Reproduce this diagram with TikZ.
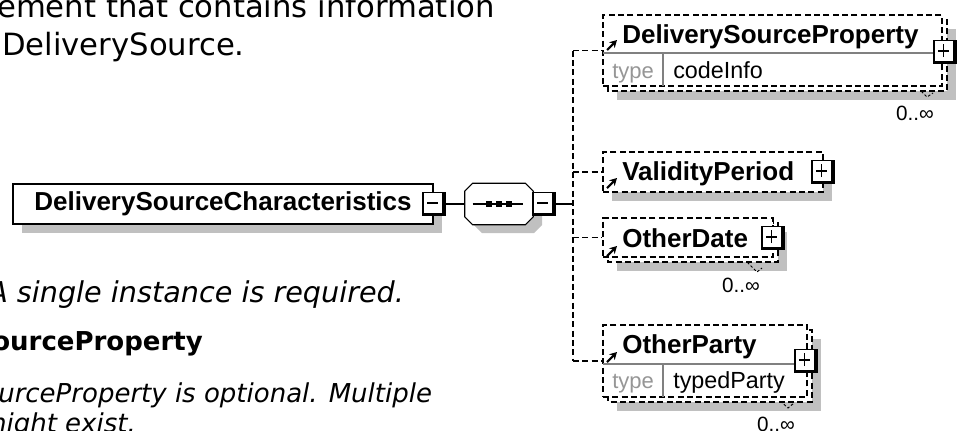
\documentclass[tikz,border=0pt]{standalone}
\usepackage{fontspec}
\newfontfamily\docfont{DejaVu Sans}
\newfontfamily\xsdfont{Liberation Sans}
\usetikzlibrary{arrows.meta}

\definecolor{shadowgray}{RGB}{192,192,192}
\definecolor{typegray}{RGB}{150,150,150}
\definecolor{sepgray}{RGB}{128,128,128}

\newcommand{\boxedge}{\draw[line width=4.5pt] (path picture bounding box.north east) -- (path picture bounding box.south east) -- (path picture bounding box.south west);}

\tikzset{
  doctext/.style={inner sep=0pt, anchor=base west, font=\docfont\fontsize{23}{27}\selectfont},
  notetext/.style={inner sep=0pt, font=\docfont\itshape\fontsize{21.5}{25}\selectfont},
  headtext/.style={inner sep=0pt, font=\docfont\bfseries\fontsize{19.5}{23}\selectfont},
  paratext/.style={inner sep=0pt, anchor=base west, font=\docfont\itshape\fontsize{19.5}{23}\selectfont},
  reqbox/.style={draw, line width=1pt, fill=white, inner sep=0pt},
  optbox/.style={reqbox, dash pattern=on 4.5pt off 2.5pt},
  optline/.style={line width=1pt, dash pattern=on 4.5pt off 2.5pt},
  elemtitle/.style={inner sep=0pt, anchor=base west, font=\xsdfont\bfseries\fontsize{19.5}{22}\selectfont},
  typelbl/.style={inner sep=0pt, anchor=base west, text=typegray, font=\xsdfont\fontsize{16.5}{19}\selectfont},
  typeval/.style={inner sep=0pt, anchor=base west, font=\xsdfont\fontsize{17.5}{20}\selectfont},
  occ/.style={inner sep=0pt, font=\xsdfont\fontsize{15.5}{18}\selectfont},
  pmbox/.style={draw, line width=0.8pt, fill=white, minimum width=16.5pt, minimum height=17.5pt, inner sep=0pt},
  minusbox/.style={pmbox, path picture={\boxedge
      \draw[line width=0.9pt] ([xshift=3pt,yshift=0.8pt]path picture bounding box.west) -- ([xshift=-5pt,yshift=0.8pt]path picture bounding box.east);}},
  plusbox/.style={pmbox, path picture={\boxedge
      \draw[line width=0.9pt] ([xshift=3pt,yshift=0.8pt]path picture bounding box.west) -- ([xshift=-5pt,yshift=0.8pt]path picture bounding box.east);
      \draw[line width=0.9pt] ([xshift=-1pt,yshift=5pt]path picture bounding box.south) -- ([xshift=-1pt,yshift=-3pt]path picture bounding box.north);}},
  seqbox/.style={inner sep=0pt, minimum width=51pt, minimum height=30.75pt},
  refarrow/.style={line width=1.6pt, -{Stealth[length=5.5pt,width=6pt]}},
  occtick/.style={line width=0.7pt, dash pattern=on 2pt off 1.5pt}
}

\begin{document}
\begin{tikzpicture}[x=0.75pt, y=-0.75pt]
\useasboundingbox (0,0) rectangle (960,430);

% documentation text, cut at the left
\node[doctext] (intro1) at (-3,17) {ement that contains information};
\node[doctext] (intro2) at (2,55) {DeliverySource.};
\node[notetext, anchor=base west] (occnote) at (-12,302) {A single instance is required.};
\node[headtext, anchor=base east] (prophead) at (203,350) {ourceProperty};
\node[paratext] (propnote1) at (-2,402) {urceProperty is optional. Multiple};
\node[paratext] (propnote2) at (-19,432) {might exist.};

% shadows
\fill[shadowgray] (22,193) rectangle (442,233);
\fill[shadowgray] (482,192) -- (534,192) -- (542,200) -- (542,225) -- (534,233) -- (482,233) -- (474,225) -- (474,200) -- cycle;
\fill[shadowgray] (617,29) rectangle (956,100);
\fill[shadowgray] (612,161) rectangle (832,201);
\fill[shadowgray] (617,232) rectangle (787,271);
\fill[shadowgray] (617,339) rectangle (821,411);

% occurrence ticks
\draw[occtick] (918,88) -- (927,97) -- (933,93);
\draw[occtick] (744,259) -- (757,272) -- (762,268);
\draw[occtick] (777,398) -- (788,408) -- (794,403);

% back boxes for repeating elements
\draw[optline, fill=white] (608,20) rectangle (947,91);
\draw[optline, fill=white] (608,223) rectangle (778,262);
\draw[optline, fill=white] (608,330) rectangle (812,402);

% parent element and sequence
\node[reqbox, minimum width=315pt, minimum height=30pt, font=\xsdfont\bfseries\fontsize{19.5}{22}\selectfont] (dsc) at (223,204) {DeliverySourceCharacteristics};
\node[minusbox] (dscminus) at (434,204) {};
\node[seqbox] (seq) at (499,204) {};
\draw[line width=0.8pt, fill=white] ([xshift=6pt]seq.north west) -- ([xshift=-6pt]seq.north east)
  -- ([yshift=-6pt]seq.north east) -- ([yshift=6pt]seq.south east) -- ([xshift=-6pt]seq.south east)
  -- ([xshift=6pt]seq.south west) -- ([yshift=6pt]seq.south west) -- ([yshift=-6pt]seq.north west) -- cycle;
\node[minusbox] (seqminus) at (544,204) {};
\coordinate (bus) at (573,204);
\draw[line width=0.8pt] ([xshift=6pt]seq.west) -- ([xshift=-7.5pt]seq.east);
\foreach \dx in {-7.5,0,7.5}
  \fill ([xshift=\dx pt]seq.center) +(-2.25pt,-2.25pt) rectangle +(2.25pt,2.25pt);

% child elements
\node[optbox, minimum width=254.25pt, minimum height=53.25pt] (dsp) at (772.5,50.5) {};
\node[elemtitle] (dsptitle) at (622,43) {DeliverySourceProperty};
\draw[sepgray, line width=0.8pt] (603,53) -- (942,53);
\draw[sepgray, line width=0.8pt] (663,53) -- (663,86);
\node[typelbl] (dsptype) at (612,78) {type};
\node[typeval] (dspval) at (673,78) {codeInfo};
\node[plusbox] (dspplus) at (945,52) {};
\node[occ] (dspocc) at (915,113) {0..∞};

\node[optbox, minimum width=165pt, minimum height=30pt] (vp) at (713,172) {};
\node[elemtitle] (vptitle) at (622,180) {ValidityPeriod};
\node[plusbox] (vpplus) at (823,172) {};

\node[optbox, minimum width=127.5pt, minimum height=29.25pt] (od) at (688,237.5) {};
\node[elemtitle] (odtitle) at (622,247) {OtherDate};
\node[plusbox] (odplus) at (773,238) {};
\node[occ] (odocc) at (741,285) {0..∞};

\node[optbox, minimum width=153pt, minimum height=54pt] (op) at (705,361) {};
\node[elemtitle] (optitle) at (622,353) {OtherParty};
\draw[sepgray, line width=0.8pt] (603,364) -- (807,364);
\draw[sepgray, line width=0.8pt] (663,364) -- (663,397);
\node[typelbl] (optype) at (612,388) {type};
\node[typeval] (opval) at (673,388) {typedParty};
\node[plusbox] (opplus) at (806,361) {};
\node[occ] (opocc) at (776,424) {0..∞};

% connectors
\draw[line width=0.8pt] (dscminus.east) -- (seq.west);
\draw[line width=0.8pt] (seqminus.east) -- (bus);
\draw[optline] (bus |- dsp.west) -- (bus |- op.west);
\foreach \n in {dsp,vp,od,op}
  \draw[optline] (bus |- \n.west) -- (\n.west);

% reference arrows
\draw[refarrow] (607,50) -- (617,40);
\draw[refarrow] (607,188) -- (617,178);
\draw[refarrow] (607,256) -- (617,246);
\draw[refarrow] (607,362) -- (617,352);
\end{tikzpicture}
\end{document}
